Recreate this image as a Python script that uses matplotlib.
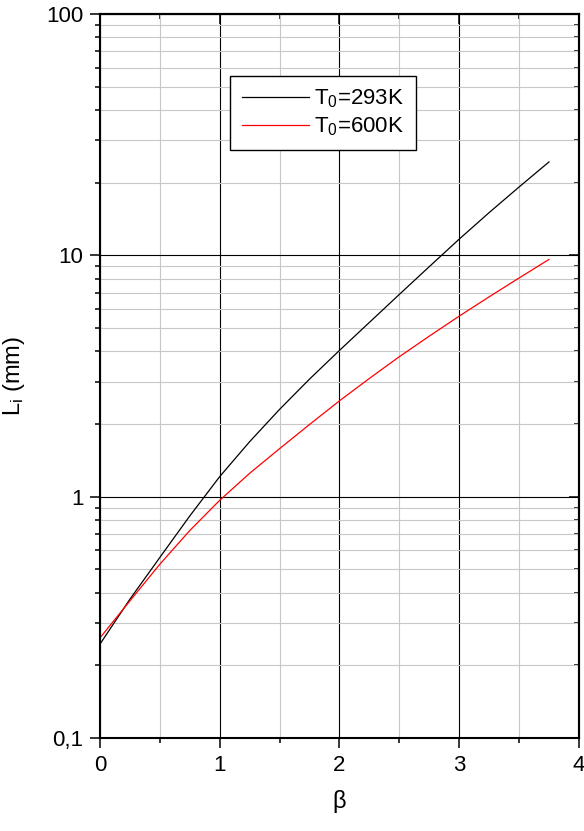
import matplotlib
matplotlib.use('Agg')
import matplotlib.pyplot as plt
from matplotlib.ticker import LogLocator, MultipleLocator, FixedFormatter, FixedLocator, NullFormatter

plt.rcParams['font.family'] = 'Liberation Sans'
plt.rcParams['mathtext.fontset'] = 'custom'
plt.rcParams['mathtext.rm'] = 'Liberation Sans'
plt.rcParams['mathtext.it'] = 'Liberation Sans'

beta = [0.0, 0.25, 0.5, 0.75, 1.0, 1.25, 1.5, 1.75, 2.0, 2.25, 2.5, 2.75, 3.0, 3.25, 3.5, 3.75]
L_293 = [0.245, 0.376, 0.560, 0.832, 1.211, 1.690, 2.300, 3.070, 4.036, 5.272, 6.887, 8.974,
         11.67, 15.03, 19.19, 24.38]
L_600 = [0.260, 0.370, 0.525, 0.724, 0.966, 1.250, 1.581, 1.991, 2.495, 3.090, 3.802, 4.624,
         5.598, 6.730, 8.054, 9.616]

ytick_vals = [0.1, 1, 10, 100]
ytick_labels = ['0,1', '1', '10', '100']

fig = plt.figure(figsize=(5.84, 8.31), dpi=100)
ax = fig.add_axes([0.1712, 0.1119, 0.820, 0.8712])

ax.plot(beta, L_293, color='black', lw=0.9, label='T$_0$=293K')
ax.plot(beta, L_600, color='red', lw=0.9, label='T$_0$=600K')

ax.set_yscale('log')
ax.set_xlim(0, 4)
ax.set_ylim(0.1, 100)

ax.xaxis.set_major_locator(MultipleLocator(1))
ax.xaxis.set_minor_locator(MultipleLocator(0.5))
ax.yaxis.set_major_locator(FixedLocator(ytick_vals))
ax.yaxis.set_major_formatter(FixedFormatter(ytick_labels))
ax.yaxis.set_minor_locator(LogLocator(base=10, subs=range(2, 10)))
ax.yaxis.set_minor_formatter(NullFormatter())

ax.grid(True, which='major', color='black', lw=0.8)
ax.grid(True, which='minor', color='#c8c8c8', lw=0.8)
ax.set_axisbelow(True)

ax.tick_params(which='major', direction='out', length=7, width=1.1, labelsize=16, pad=5)
ax.tick_params(which='minor', direction='out', length=3.6, width=1.1)
for s in ax.spines.values():
    s.set_linewidth(1.5)

# inward ticks on top and right
top = ax.secondary_xaxis('top')
top.xaxis.set_major_locator(MultipleLocator(1))
top.xaxis.set_minor_locator(MultipleLocator(0.5))
top.tick_params(which='major', direction='in', length=7, width=1.1, labeltop=False)
top.tick_params(which='minor', direction='in', length=3.6, width=1.1)
top.spines['top'].set_linewidth(1.5)

right = ax.secondary_yaxis('right')
right.yaxis.set_major_locator(FixedLocator(ytick_vals))
right.yaxis.set_minor_locator(LogLocator(base=10, subs=range(2, 10)))
right.yaxis.set_minor_formatter(NullFormatter())
right.tick_params(which='major', direction='in', length=7, width=1.1, labelright=False)
right.tick_params(which='minor', direction='in', length=3.6, width=1.1)
right.spines['right'].set_linewidth(1.5)

ax.set_xlabel('β', fontsize=17, labelpad=10)
ax.set_ylabel('L$_\\mathrm{i}$ (mm)', fontsize=17, labelpad=14)

leg = ax.legend(loc='upper left', bbox_to_anchor=(0.272, 0.915), fontsize=16,
                frameon=True, fancybox=False, framealpha=1, edgecolor='black',
                handlelength=3.0, borderpad=0.55, labelspacing=0.22, handletextpad=0.2,
                borderaxespad=0)
leg.get_frame().set_linewidth(1.0)

fig.savefig('out.png', dpi=100)
